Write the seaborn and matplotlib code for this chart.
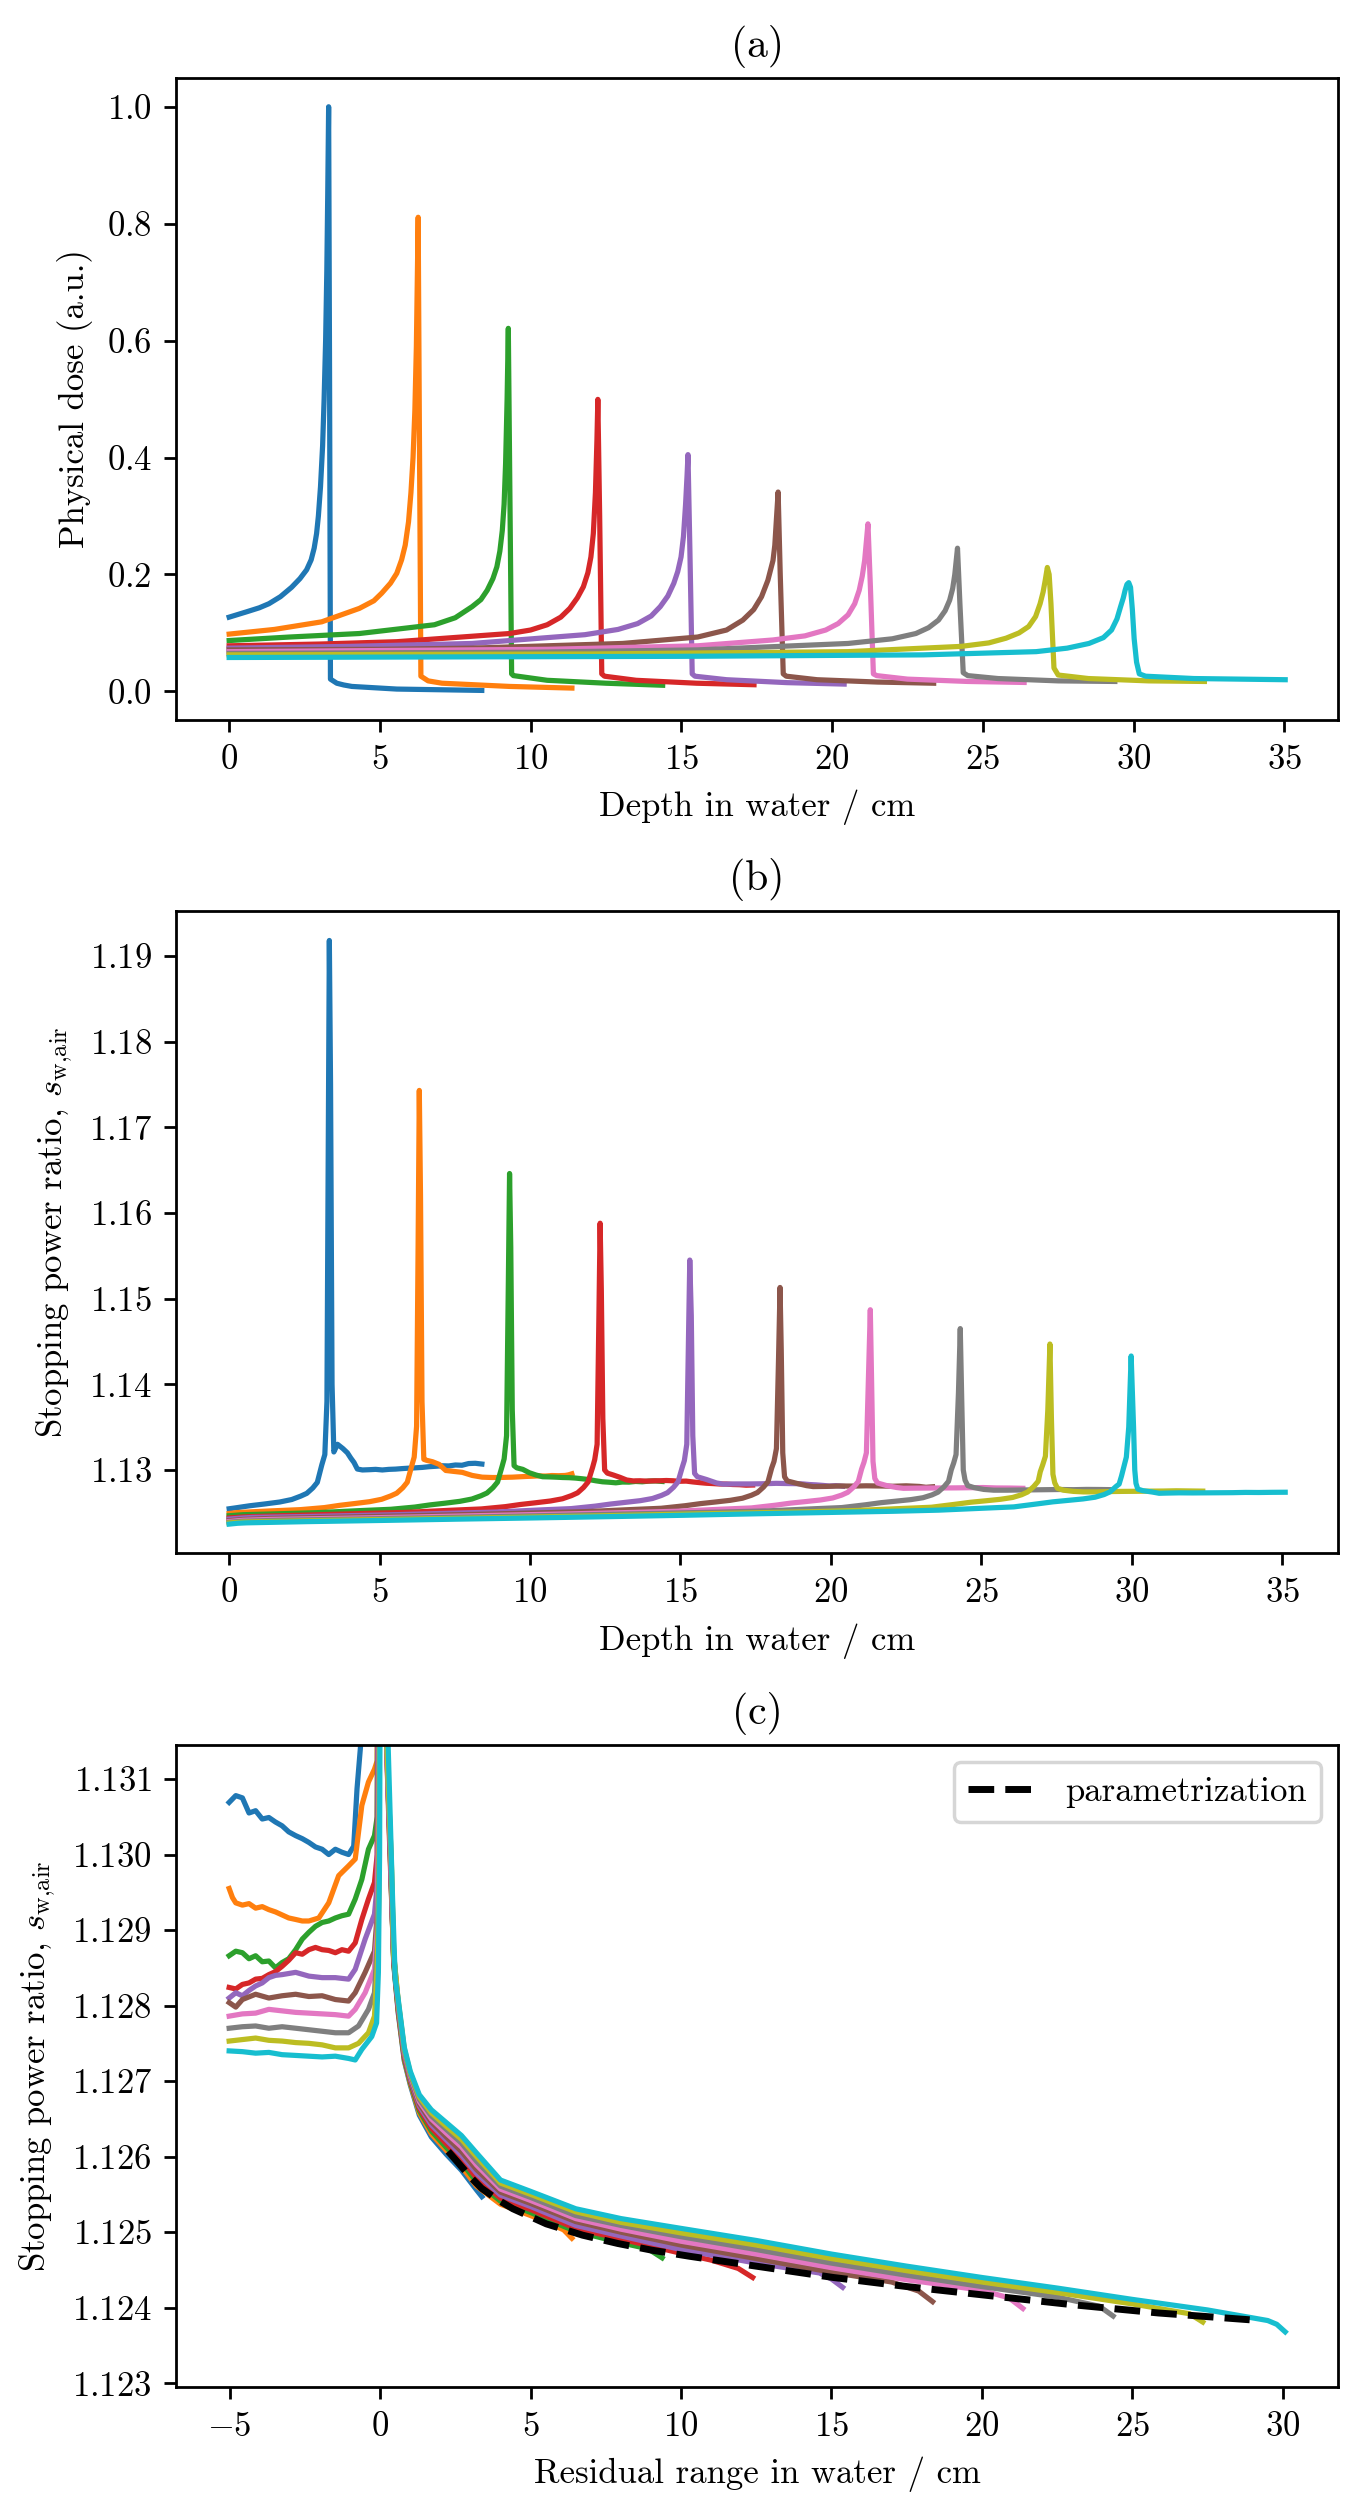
import matplotlib
matplotlib.use("Agg")
import matplotlib.pyplot as plt
import pandas as pd
import seaborn as sns

plt.rcParams["font.family"] = "serif"
plt.rcParams["font.serif"] = ["cmr10"]
plt.rcParams["mathtext.fontset"] = "cm"
plt.rcParams["axes.formatter.use_mathtext"] = True
plt.rcParams["font.size"] = 10

# ---- panel (a): depth dose curves, one pair of lists per beam ----
DEPTH_1 = [0.0, 0.57, 1.0, 1.32, 1.7, 2.07, 2.35, 2.57, 2.72, 2.82, 2.90, 2.96, 3.03, 3.10, 3.15, 3.20, 3.24, 3.27,
           3.30, 3.33, 3.36, 3.57, 3.80, 4.07, 5.56, 8.38]
DOSE_1 = [0.127, 0.136, 0.143, 0.150, 0.162, 0.178, 0.193, 0.208, 0.225, 0.245, 0.270, 0.300, 0.350, 0.420, 0.500,
          0.600, 0.720, 0.850, 1.000, 0.550, 0.021, 0.014, 0.011, 0.0085, 0.004, 0.0017]
DEPTH_2 = [0.0, 1.5, 3.07, 4.32, 4.8, 5.06, 5.35, 5.56, 5.72, 5.84, 5.95, 6.03, 6.10, 6.16, 6.21, 6.24, 6.27, 6.31,
           6.36, 6.60, 7.06, 9.30, 11.37]
DOSE_2 = [0.098, 0.106, 0.119, 0.142, 0.155, 0.168, 0.185, 0.202, 0.225, 0.250, 0.290, 0.340, 0.400, 0.480, 0.590,
          0.700, 0.811, 0.450, 0.026, 0.018, 0.014, 0.0085, 0.0057]
DEPTH_3 = [0.0, 2.0, 4.32, 6.81, 7.5, 8.06, 8.35, 8.56, 8.75, 8.88, 8.98, 9.06, 9.12, 9.17, 9.22, 9.26, 9.31, 9.37,
           9.43, 10.55, 12.5, 14.38]
DOSE_3 = [0.087, 0.093, 0.099, 0.114, 0.126, 0.145, 0.157, 0.173, 0.193, 0.213, 0.240, 0.275, 0.320, 0.390, 0.500,
          0.621, 0.350, 0.030, 0.027, 0.019, 0.014, 0.0105]
DEPTH_4 = [0.0, 3.0, 5.56, 9.3, 10.0, 10.55, 11.0, 11.3, 11.55, 11.75, 11.9, 12.0, 12.08, 12.15, 12.2, 12.23, 12.29,
           12.36, 12.45, 13.5, 15.5, 17.41]
DOSE_4 = [0.078, 0.081, 0.085, 0.099, 0.105, 0.114, 0.127, 0.142, 0.160, 0.179, 0.203, 0.230, 0.270, 0.340, 0.430,
          0.4995, 0.300, 0.030, 0.026, 0.019, 0.014, 0.0114]
DEPTH_5 = [0.0, 4.0, 8.06, 11.8, 12.9, 13.55, 14.0, 14.3, 14.55, 14.75, 14.88, 14.99, 15.07, 15.14, 15.19, 15.22,
           15.28, 15.36, 15.45, 16.5, 18.5, 20.4]
DOSE_5 = [0.074, 0.077, 0.082, 0.097, 0.106, 0.116, 0.129, 0.145, 0.163, 0.185, 0.205, 0.230, 0.265, 0.320, 0.370,
          0.405, 0.250, 0.030, 0.026, 0.020, 0.015, 0.0125]
DEPTH_6 = [0.0, 5.0, 8.06, 13.05, 15.54, 16.5, 17.04, 17.4, 17.66, 17.87, 18.04, 18.1, 18.16, 18.21, 18.28, 18.38,
           18.48, 19.5, 21.5, 23.37]
DOSE_6 = [0.071, 0.072, 0.074, 0.082, 0.093, 0.105, 0.122, 0.140, 0.162, 0.190, 0.224, 0.250, 0.300, 0.341, 0.200,
          0.030, 0.026, 0.020, 0.016, 0.014]
DEPTH_7 = [0.0, 10.55, 15.54, 18.04, 19.1, 19.79, 20.2, 20.53, 20.75, 20.9, 21.0, 21.08, 21.14, 21.19, 21.27, 21.37,
           21.48, 22.5, 24.5, 26.37]
DOSE_7 = [0.068, 0.072, 0.078, 0.088, 0.095, 0.105, 0.116, 0.131, 0.150, 0.173, 0.197, 0.224, 0.258, 0.2866, 0.180,
          0.030, 0.027, 0.021, 0.017, 0.0153]
DEPTH_8 = [0.0, 10.0, 15.54, 20.53, 22.0, 22.78, 23.2, 23.53, 23.75, 23.9, 24.0, 24.07, 24.12, 24.16, 24.24, 24.35,
           24.5, 25.5, 27.5, 29.38]
DOSE_8 = [0.065, 0.067, 0.071, 0.082, 0.090, 0.099, 0.109, 0.122, 0.138, 0.156, 0.176, 0.200, 0.225, 0.245, 0.150,
          0.032, 0.027, 0.022, 0.018, 0.017]
DEPTH_9 = [0.0, 12.0, 20.53, 24.28, 25.2, 25.77, 26.2, 26.52, 26.75, 26.9, 27.0, 27.07, 27.14, 27.2, 27.26, 27.36,
           27.5, 28.5, 30.5, 32.35]
DOSE_9 = [0.0625, 0.064, 0.068, 0.077, 0.083, 0.091, 0.100, 0.111, 0.128, 0.150, 0.170, 0.190, 0.212, 0.200, 0.150,
          0.040, 0.028, 0.022, 0.018, 0.017]
DEPTH_10 = [0.0, 15.0, 23.03, 26.77, 27.8, 28.52, 29.0, 29.27, 29.45, 29.57, 29.66, 29.72, 29.78, 29.84, 29.90, 29.96,
            30.02, 30.10, 30.19, 30.40, 32.0, 35.03]
DOSE_10 = [0.058, 0.060, 0.0625, 0.068, 0.074, 0.082, 0.092, 0.105, 0.124, 0.145, 0.160, 0.173, 0.183, 0.186, 0.178,
           0.140, 0.090, 0.050, 0.030, 0.026, 0.022, 0.020]

# ---- panels (b) and (c): stopping power ratio vs residual range ----
# range of each beam, depth = range - residual range
RANGE = [3.38, 6.37, 9.37, 12.38, 15.37, 18.36, 21.36, 24.36, 27.34, 30.08]

RR_1 = [-5.02, -4.80, -4.58, -4.36, -4.14, -3.92, -3.70, -3.48, -3.26, -3.04, -2.81, -2.59, -2.37, -2.15, -1.93,
        -1.71, -1.49, -1.27, -1.05, -0.88, -0.77, -0.66, -0.55, -0.40, -0.22, -0.10, -0.04, 0.01, 0.05, 0.09,
        0.13, 0.20, 0.30, 0.45, 0.60, 0.80, 1.00, 1.30, 1.70, 2.20, 2.70, 3.20, 3.38]
SPR_1 = [1.13069, 1.13078, 1.13075, 1.13055, 1.13058, 1.13047, 1.13049, 1.13043, 1.13038, 1.13030, 1.13025, 1.13021,
         1.13016, 1.13010, 1.13007, 1.13000, 1.13007, 1.13003, 1.13000, 1.13011, 1.13087, 1.13140, 1.13200, 1.13250,
         1.13300, 1.13210, 1.14000, 1.17500, 1.19180, 1.16500, 1.13800, 1.13180, 1.13060, 1.12855, 1.12790, 1.12727,
         1.12695, 1.12655, 1.12626, 1.12603, 1.12582, 1.12556, 1.12547]
RR_2 = [-5.02, -4.91, -4.80, -4.58, -4.36, -4.14, -3.92, -3.70, -3.48, -3.26, -3.04, -2.81, -2.59, -2.37, -2.04,
        -1.71, -1.38, -1.05, -0.83, -0.61, -0.39, -0.19, -0.10, -0.04, 0.01, 0.05, 0.09, 0.14, 0.22, 0.30,
        0.45, 0.60, 0.80, 1.00, 1.30, 1.70, 2.20, 2.70, 3.20, 4.00, 5.00, 5.60, 6.10, 6.37]
SPR_2 = [1.12955, 1.12943, 1.12936, 1.12933, 1.12935, 1.12929, 1.12931, 1.12927, 1.12924, 1.12920, 1.12916, 1.12914,
         1.12912, 1.12912, 1.12916, 1.12936, 1.12972, 1.12985, 1.12994, 1.13065, 1.13096, 1.13113, 1.13124, 1.13800,
         1.16200, 1.17430, 1.15600, 1.13510, 1.13150, 1.13050, 1.12857, 1.12792, 1.12729, 1.12697, 1.12658, 1.12630,
         1.12608, 1.12587, 1.12561, 1.12537, 1.12522, 1.12512, 1.12503, 1.12492]
RR_3 = [-5.02, -4.80, -4.58, -4.36, -4.14, -3.92, -3.70, -3.48, -3.26, -3.04, -2.81, -2.59, -2.37, -2.15, -1.93,
        -1.71, -1.49, -1.27, -1.05, -0.83, -0.61, -0.39, -0.19, -0.10, -0.04, 0.01, 0.05, 0.09, 0.15, 0.23,
        0.30, 0.45, 0.60, 0.80, 1.00, 1.30, 1.70, 2.20, 2.70, 3.20, 4.00, 5.00, 6.50, 8.00, 8.90, 9.37]
SPR_3 = [1.12866, 1.12872, 1.12870, 1.12862, 1.12866, 1.12858, 1.12859, 1.12850, 1.12857, 1.12862, 1.12874, 1.12888,
         1.12897, 1.12905, 1.12910, 1.12912, 1.12916, 1.12919, 1.12921, 1.12941, 1.12967, 1.13007, 1.13025, 1.13050,
         1.13700, 1.15600, 1.16460, 1.15200, 1.13400, 1.13130, 1.13040, 1.12858, 1.12794, 1.12731, 1.12699, 1.12661,
         1.12634, 1.12612, 1.12592, 1.12567, 1.12541, 1.12526, 1.12501, 1.12486, 1.12478, 1.12466]
RR_4 = [-5.02, -4.80, -4.58, -4.36, -4.14, -3.92, -3.70, -3.48, -3.26, -3.04, -2.81, -2.59, -2.37, -2.15, -1.93,
        -1.71, -1.49, -1.27, -1.05, -0.83, -0.61, -0.39, -0.19, -0.10, -0.04, 0.01, 0.05, 0.09, 0.15, 0.23,
        0.30, 0.45, 0.60, 0.80, 1.00, 1.30, 1.70, 2.20, 2.70, 3.20, 4.00, 5.00, 6.50, 8.00, 10.00, 11.00, 11.90, 12.38]
SPR_4 = [1.12824, 1.12822, 1.12828, 1.12830, 1.12835, 1.12836, 1.12841, 1.12845, 1.12852, 1.12860, 1.12870, 1.12868,
         1.12874, 1.12877, 1.12874, 1.12873, 1.12870, 1.12874, 1.12872, 1.12883, 1.12914, 1.12941, 1.12963, 1.13000,
         1.13600, 1.15100, 1.15880, 1.14800, 1.13300, 1.13120, 1.13030, 1.12860, 1.12796, 1.12733, 1.12701, 1.12664,
         1.12638, 1.12617, 1.12597, 1.12572, 1.12545, 1.12530, 1.12505, 1.12491, 1.12472, 1.12463, 1.12452, 1.12440]
RR_5 = [-5.02, -4.80, -4.58, -4.36, -4.14, -3.92, -3.70, -3.48, -3.26, -2.81, -2.37, -1.93, -1.49, -1.05, -0.83,
        -0.50, -0.19, -0.10, -0.04, 0.01, 0.06, 0.10, 0.16, 0.24, 0.32, 0.45, 0.60, 0.80, 1.00, 1.30,
        1.70, 2.20, 2.70, 3.20, 4.00, 5.00, 6.50, 8.00, 10.00, 12.50, 14.60, 15.00, 15.37]
SPR_5 = [1.12810, 1.12817, 1.12813, 1.12820, 1.12826, 1.12830, 1.12837, 1.12840, 1.12841, 1.12844, 1.12839, 1.12837,
         1.12837, 1.12835, 1.12848, 1.12888, 1.12921, 1.12960, 1.13400, 1.14800, 1.15450, 1.14600, 1.13300, 1.13110,
         1.13020, 1.12862, 1.12798, 1.12735, 1.12703, 1.12667, 1.12642, 1.12622, 1.12602, 1.12578, 1.12549, 1.12534,
         1.12509, 1.12495, 1.12477, 1.12459, 1.12446, 1.12438, 1.12427]
RR_6 = [-5.02, -4.80, -4.58, -4.14, -3.70, -3.26, -2.81, -2.37, -1.93, -1.49, -1.05, -0.83, -0.50, -0.19, -0.10,
        -0.04, 0.01, 0.05, 0.10, 0.17, 0.25, 0.33, 0.45, 0.60, 0.80, 1.00, 1.30, 1.70, 2.20, 2.70,
        3.20, 4.00, 5.00, 6.50, 8.00, 10.00, 12.50, 15.00, 17.00, 17.90, 18.36]
SPR_6 = [1.12804, 1.12798, 1.12808, 1.12815, 1.12810, 1.12813, 1.12815, 1.12812, 1.12813, 1.12808, 1.12806, 1.12817,
         1.12844, 1.12872, 1.12920, 1.13200, 1.14400, 1.15130, 1.14300, 1.13250, 1.13100, 1.13020, 1.12863, 1.12800,
         1.12737, 1.12705, 1.12670, 1.12646, 1.12626, 1.12607, 1.12583, 1.12553, 1.12538, 1.12514, 1.12500, 1.12483,
         1.12465, 1.12447, 1.12434, 1.12422, 1.12408]
RR_7 = [-5.02, -4.58, -4.14, -3.70, -3.26, -2.81, -2.37, -1.93, -1.49, -1.05, -0.83, -0.50, -0.19, -0.10, -0.04,
        0.01, 0.05, 0.11, 0.18, 0.26, 0.34, 0.45, 0.60, 0.80, 1.00, 1.30, 1.70, 2.20, 2.70, 3.20,
        4.00, 5.00, 6.50, 8.00, 10.00, 12.50, 15.00, 17.50, 20.00, 20.90, 21.36]
SPR_7 = [1.12786, 1.12789, 1.12790, 1.12795, 1.12793, 1.12791, 1.12790, 1.12789, 1.12788, 1.12786, 1.12795, 1.12817,
         1.12848, 1.12900, 1.13100, 1.14100, 1.14870, 1.14100, 1.13200, 1.13090, 1.13010, 1.12865, 1.12802, 1.12739,
         1.12707, 1.12673, 1.12650, 1.12631, 1.12613, 1.12589, 1.12557, 1.12542, 1.12518, 1.12504, 1.12488, 1.12471,
         1.12453, 1.12437, 1.12423, 1.12413, 1.12399]
RR_8 = [-5.02, -4.58, -4.14, -3.70, -3.26, -2.81, -2.37, -1.93, -1.49, -1.05, -0.72, -0.39, -0.19, -0.10, -0.04,
        0.01, 0.06, 0.12, 0.20, 0.28, 0.36, 0.45, 0.60, 0.80, 1.00, 1.30, 1.70, 2.20, 2.70, 3.20,
        4.00, 5.00, 6.50, 8.00, 10.00, 12.50, 15.00, 17.50, 20.00, 22.50, 23.90, 24.36]
SPR_8 = [1.12770, 1.12772, 1.12773, 1.12770, 1.12772, 1.12770, 1.12768, 1.12766, 1.12764, 1.12764, 1.12773, 1.12795,
         1.12817, 1.12880, 1.13000, 1.13800, 1.14650, 1.13900, 1.13180, 1.13080, 1.13000, 1.12867, 1.12804, 1.12741,
         1.12709, 1.12676, 1.12654, 1.12636, 1.12618, 1.12594, 1.12561, 1.12546, 1.12522, 1.12509, 1.12494, 1.12477,
         1.12459, 1.12443, 1.12428, 1.12414, 1.12402, 1.12389]
RR_9 = [-5.02, -4.58, -4.14, -3.70, -3.26, -2.81, -2.37, -1.93, -1.49, -1.05, -0.72, -0.39, -0.19, -0.10, -0.04,
        0.01, 0.06, 0.13, 0.21, 0.30, 0.38, 0.45, 0.60, 0.80, 1.00, 1.30, 1.70, 2.20, 2.70, 3.20,
        4.00, 5.00, 6.50, 8.00, 10.00, 12.50, 15.00, 17.50, 20.00, 22.50, 25.00, 26.90, 27.34]
SPR_9 = [1.12753, 1.12755, 1.12757, 1.12754, 1.12753, 1.12751, 1.12750, 1.12748, 1.12744, 1.12744, 1.12750, 1.12764,
         1.12786, 1.12850, 1.12950, 1.13600, 1.14470, 1.13700, 1.13160, 1.13060, 1.12980, 1.12868, 1.12806, 1.12743,
         1.12711, 1.12679, 1.12658, 1.12640, 1.12623, 1.12600, 1.12565, 1.12550, 1.12527, 1.12513, 1.12499, 1.12483,
         1.12465, 1.12449, 1.12434, 1.12420, 1.12405, 1.12392, 1.12381]
RR_10 = [-5.02, -4.58, -4.14, -3.70, -3.26, -2.81, -2.37, -1.93, -1.49, -1.05, -0.83, -0.61, -0.28, -0.12, -0.06,
         -0.02, 0.02, 0.10, 0.18, 0.26, 0.34, 0.42, 0.50, 0.60, 0.80, 1.00, 1.30, 1.70, 2.20, 2.70,
         3.20, 4.00, 5.00, 6.50, 8.00, 10.00, 12.50, 15.00, 17.50, 20.00, 22.50, 25.00, 27.50, 29.50, 29.80, 30.08]
SPR_10 = [1.12740, 1.12739, 1.12737, 1.12738, 1.12735, 1.12734, 1.12733, 1.12732, 1.12733, 1.12730, 1.12728, 1.12742,
          1.12759, 1.12777, 1.12844, 1.13000, 1.13500, 1.14330, 1.13500, 1.13150, 1.13040, 1.12930, 1.12835, 1.12808,
          1.12745, 1.12713, 1.12682, 1.12662, 1.12645, 1.12628, 1.12605, 1.12569, 1.12554, 1.12531, 1.12518, 1.12505,
          1.12489, 1.12471, 1.12455, 1.12440, 1.12426, 1.12411, 1.12397, 1.12383, 1.12378, 1.12368]

PARAM_RR = [2.26, 2.59, 3.00, 3.37, 3.90, 4.41, 5.52, 6.73, 7.90, 9.05, 10.30, 12.50, 15.06, 17.50, 20.47, 23.00, 25.87, 28.90]
PARAM_SPR = [1.12607, 1.12592, 1.12573, 1.12558, 1.12543, 1.12531, 1.12511, 1.12496, 1.12485, 1.12476, 1.12468,
             1.12455, 1.12440, 1.12428, 1.12415, 1.12404, 1.12393, 1.12384]

BEAMS = [str(i) for i in range(1, 11)]
SPR_LABEL = r"Stopping power ratio, $s_{\mathrm{w{,}air}}$"


def long_frame(pairs, x_name, y_name):
    parts = []
    for beam, (xs, ys) in zip(BEAMS, pairs):
        parts.append(pd.DataFrame({x_name: xs, y_name: ys, "beam": beam}))
    return pd.concat(parts, ignore_index=True)


def main():
    dose_df = long_frame(
        [(DEPTH_1, DOSE_1), (DEPTH_2, DOSE_2), (DEPTH_3, DOSE_3), (DEPTH_4, DOSE_4), (DEPTH_5, DOSE_5),
         (DEPTH_6, DOSE_6), (DEPTH_7, DOSE_7), (DEPTH_8, DOSE_8), (DEPTH_9, DOSE_9), (DEPTH_10, DOSE_10)],
        "depth", "dose",
    )
    spr_df = long_frame(
        [(RR_1, SPR_1), (RR_2, SPR_2), (RR_3, SPR_3), (RR_4, SPR_4), (RR_5, SPR_5),
         (RR_6, SPR_6), (RR_7, SPR_7), (RR_8, SPR_8), (RR_9, SPR_9), (RR_10, SPR_10)],
        "residual", "spr",
    )
    beam_range = dict(zip(BEAMS, RANGE))
    spr_df["depth"] = spr_df["beam"].map(beam_range) - spr_df["residual"]

    palette = sns.color_palette("tab10", 10)
    common = dict(hue="beam", hue_order=BEAMS, palette=palette, estimator=None, legend=False)

    fig, axes = plt.subplots(3, 1, figsize=(1366 / 250, 2519 / 250), dpi=250)
    fig.subplots_adjust(left=0.1291, right=0.9795, top=0.9692, bottom=0.0524, hspace=0.2986)

    ax = axes[0]
    sns.lineplot(data=dose_df, x="depth", y="dose", ax=ax, **common)
    ax.set_title("(a)")
    ax.set_xlabel("Depth in water / cm")
    ax.set_ylabel("Physical dose (a.u.)")

    ax = axes[1]
    sns.lineplot(data=spr_df, x="depth", y="spr", ax=ax, **common)
    ax.set_title("(b)")
    ax.set_xlabel("Depth in water / cm")
    ax.set_ylabel(SPR_LABEL)
    ax.ticklabel_format(axis="y", useOffset=False)

    ax = axes[2]
    sns.lineplot(data=spr_df, x="residual", y="spr", ax=ax, **common)
    sns.lineplot(x=PARAM_RR, y=PARAM_SPR, color="black", linestyle="--", linewidth=2,
                 label="parametrization", ax=ax)
    ax.set_ylim(1.12295, 1.13145)
    ax.set_title("(c)")
    ax.set_xlabel("Residual range in water / cm")
    ax.set_ylabel(SPR_LABEL)
    ax.ticklabel_format(axis="y", useOffset=False)
    ax.legend(loc="upper right")

    fig.savefig("out.png", dpi=250)
    plt.close(fig)


if __name__ == "__main__":
    main()
